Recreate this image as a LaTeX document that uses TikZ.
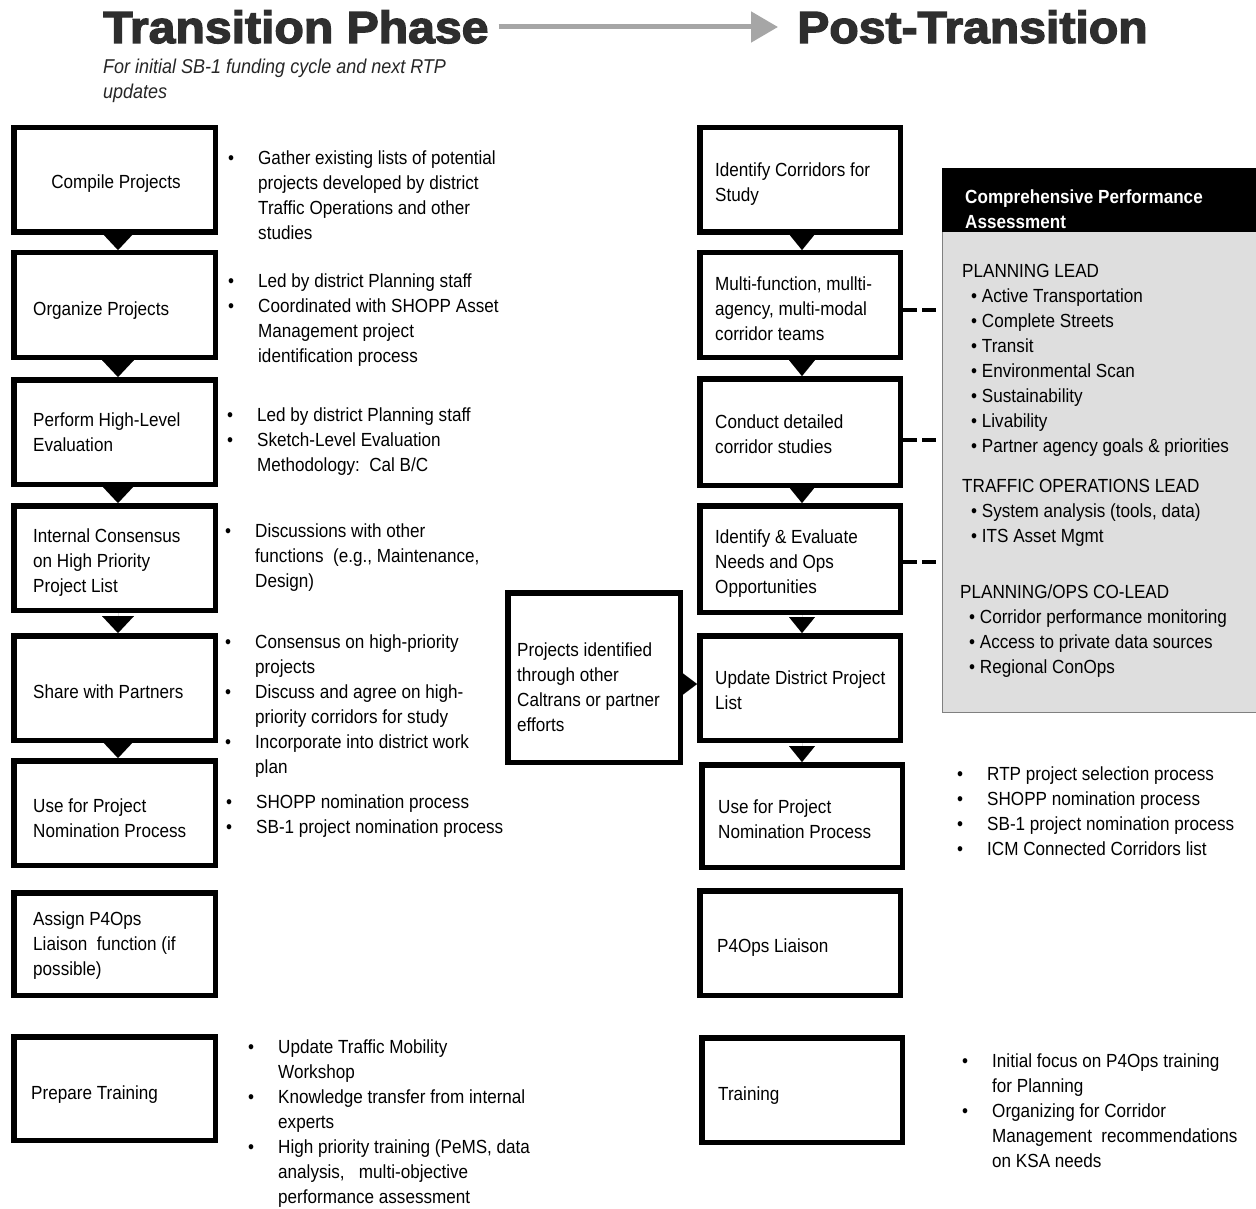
\documentclass[tikz,border=0pt]{standalone}
\usepackage{fontspec}
\setmainfont{Liberation Sans}[FakeStretch=0.9]
\newfontfamily\titlefont{Liberation Sans}[FakeStretch=1.07, BoldFeatures={FakeBold=3}]
\usetikzlibrary{arrows.meta}
\newcommand{\bi}{\makebox[30pt][l]{•}}
\newcommand{\bc}{\hspace*{30pt}}
\newcommand{\gi}{\hspace*{9pt}•\ }
\begin{document}
\begin{tikzpicture}[x=1pt,y=-1pt,
  box/.style={draw, line width=5.5pt, inner sep=0pt, minimum width=200.5pt},
  txt/.style={inner sep=0pt, align=left, anchor=west, yshift=-3.5pt, font=\fontsize{19}{25}\selectfont,
    execute at begin node=\strut, execute at end node=\strut},
  btxt/.style={txt, text=white, font=\fontsize{19}{25}\selectfont\bfseries},
  titletxt/.style={inner sep=0pt, anchor=base west, text=black!82,
    font=\titlefont\bfseries\fontsize{45}{50}\selectfont, text height=32pt, text depth=0pt},
  ltri/.style={-{Triangle[width=32pt,length=17pt]}, line width=0.01pt},
  rtri/.style={-{Triangle[width=26pt,length=16pt]}, line width=0.01pt},
  htri/.style={-{Triangle[width=24pt,length=16pt]}, line width=0.01pt},
  dashc/.style={line width=4.5pt, dash pattern=on 14pt off 5pt, shorten >=5pt},
  grayarr/.style={-{Triangle[width=30pt,length=27pt]}, line width=5pt, draw=black!35}
]
\useasboundingbox (0,0) rectangle (1256,1209);
\clip (0,0) rectangle (1256,1209);
\fill[white] (0,0) rectangle (1256,1209);

% titles
\node[titletxt] (T1) at (103,43) {Transition Phase};
\node[titletxt] (T2) at (797,43) {Post-Transition};
\draw[grayarr] ([xshift=10pt]T1.east) -- ([xshift=-19pt]T2.west);
\node[inner sep=0pt, anchor=north west, align=left, text=black!85,
  font=\itshape\fontsize{20}{25}\selectfont,
  execute at begin node=\strut, execute at end node=\strut] (ST) at (103,58.5)
  {For initial SB-1 funding cycle and next RTP\\updates};

% left column boxes
\node[box, minimum width=201.5pt, minimum height=104.5pt] (L1) at (114.5,180) {};
\node[box, minimum width=201.5pt, minimum height=104.5pt] (L2) at (114.5,305) {};
\node[box, minimum width=201.5pt, minimum height=104.5pt] (L3) at (114.5,432) {};
\node[box, minimum width=201.5pt, minimum height=104.5pt] (L4) at (114.5,558) {};
\node[box, minimum width=201.5pt, minimum height=104.5pt] (L5) at (114.5,688) {};
\node[box, minimum width=201.5pt, minimum height=104.5pt] (L6) at (114.5,813) {};
\node[box, minimum width=201.5pt, minimum height=102.5pt] (L7) at (114.5,944) {};
\node[box, minimum width=201.5pt, minimum height=103.5pt] (L8) at (114.5,1088.5) {};

\node[txt, anchor=center] (L1t) at (116,180) {Compile Projects};
\node[txt] (L2t) at (33,307.5) {Organize Projects};
\node[txt] (L3t) at (33,432.5) {Perform High-Level\\Evaluation};
\node[txt] (L4t) at (33,561) {Internal Consensus\\on High Priority\\Project List};
\node[txt] (L5t) at (33,690) {Share with Partners};
\node[txt] (L6t) at (33,818.5) {Use for Project\\Nomination Process};
\node[txt] (L7t) at (33,944) {Assign P4Ops\\Liaison\ \ function (if\\possible)};
\node[txt] (L8t) at (31,1091) {Prepare Training};

\foreach \a/\b in {L1/L2,L2/L3,L3/L4,L4/L5,L5/L6}
  \draw[ltri] ([xshift=3.5pt]\a.south) -- ([xshift=3.5pt]\b.north);

% left bullet lists
\node[txt] (B1) at (228,195.5) {\bi Gather existing lists of potential\\\bc projects developed by district\\\bc Traffic Operations and other\\\bc studies};
\node[txt] (B2) at (228,318.5) {\bi Led by district Planning staff\\\bi Coordinated with SHOPP Asset\\\bc Management project\\\bc identification process};
\node[txt] (B3) at (227,440) {\bi Led by district Planning staff\\\bi Sketch-Level Evaluation\\\bc Methodology:\ \ Cal B/C};
\node[txt] (B4) at (225,556) {\bi Discussions with other\\\bc functions\ \ (e.g., Maintenance,\\\bc Design)};
\node[txt] (B5) at (225,704.5) {\bi Consensus on high-priority\\\bc projects\\\bi Discuss and agree on high-\\\bc priority corridors for study\\\bi Incorporate into district work\\\bc plan};
\node[txt] (B6) at (226,814.5) {\bi SHOPP nomination process\\\bi SB-1 project nomination process};
\node[txt] (B8) at (248,1122) {\bi Update Traffic Mobility\\\bc Workshop\\\bi Knowledge transfer from internal\\\bc experts\\\bi High priority training (PeMS, data\\\bc analysis,\ \ \ multi-objective\\\bc performance assessment};

% middle box
\node[box, minimum width=172.5pt, minimum height=169.5pt] (M) at (594,677.5) {};
\node[txt] (Mt) at (517,687.5) {Projects identified\\through other\\Caltrans or partner\\efforts};

% gray assessment box
\node[draw=black!50, fill=black!13, line width=1.2pt, inner sep=0pt, anchor=north west,
  minimum width=320pt, minimum height=544pt] (G) at (942,168) {};
\node[fill=black, inner sep=0pt, anchor=north west, minimum width=320pt, minimum height=64pt] (GH) at (942,168) {};
\node[btxt] (GHt) at (965,209.5) {Comprehensive Performance\\Assessment};
\node[txt] (G1) at (962,358.5) {PLANNING LEAD\\\gi Active Transportation\\\gi Complete Streets\\\gi Transit\\\gi Environmental Scan\\\gi Sustainability\\\gi Livability\\\gi Partner agency goals \& priorities};
\node[txt] (G2) at (962,511) {TRAFFIC OPERATIONS LEAD\\\gi System analysis (tools, data)\\\gi ITS Asset Mgmt};
\node[txt] (G3) at (960,629.5) {PLANNING/OPS CO-LEAD\\\gi Corridor performance monitoring\\\gi Access to private data sources\\\gi Regional ConOps};

% right column boxes
\node[box, minimum height=104.5pt] (R1) at (800,180) {};
\node[box, minimum height=104.5pt] (R2) at (800,305) {};
\node[box, minimum height=106.5pt] (R3) at (800,432) {};
\node[box, minimum height=106.5pt] (R4) at (800,559) {};
\node[box, minimum height=104.5pt] (R5) at (800,688) {};
\node[box, minimum height=102.5pt] (R6) at (802,816) {};
\node[box, minimum height=104.5pt] (R7) at (800,943) {};
\node[box, minimum height=104.5pt] (R8) at (802,1090) {};

\node[txt] (R1t) at (715,182.5) {Identify Corridors for\\Study};
\node[txt] (R2t) at (715,309) {Multi-function, mullti-\\agency, multi-modal\\corridor teams};
\node[txt] (R3t) at (715,434.5) {Conduct detailed\\corridor studies};
\node[txt] (R4t) at (715,562) {Identify \& Evaluate\\Needs and Ops\\Opportunities};
\node[txt] (R5t) at (715,690.5) {Update District Project\\List};
\node[txt] (R6t) at (718,819.5) {Use for Project\\Nomination Process};
\node[txt] (R7t) at (717,944) {P4Ops Liaison};
\node[txt] (R8t) at (718,1092) {Training};

\draw[rtri] ([xshift=2pt]R1.south) -- ([xshift=2pt]R2.north);
\draw[rtri] ([xshift=2pt]R2.south) -- ([xshift=2pt]R3.north);
\draw[rtri] ([xshift=2pt]R3.south) -- ([xshift=2pt]R4.north);
\draw[rtri] ([xshift=2pt]R4.south) -- ([xshift=2pt]R5.north);
\draw[rtri] ([xshift=2pt]R5.south) -- (R6.north);
\draw[htri] ([yshift=-6.5pt]M.east) -- ([yshift=-6.5pt]M.east -| R5.west);

% dashed links to assessment box
\draw[dashc] ([yshift=-5pt]R2.east) -- ([yshift=-5pt]R2.east -| G.west);
\draw[dashc] ([yshift=-8pt]R3.east) -- ([yshift=-8pt]R3.east -| G.west);
\draw[dashc] ([yshift=-3pt]R4.east) -- ([yshift=-3pt]R4.east -| G.west);

% right bullet lists
\node[txt] (B6R) at (957,811.5) {\bi RTP project selection process\\\bi SHOPP nomination process\\\bi SB-1 project nomination process\\\bi ICM Connected Corridors list};
\node[txt] (B8R) at (962,1111) {\bi Initial focus on P4Ops training\\\bc for Planning\\\bi Organizing for Corridor\\\bc Management\ \ recommendations\\\bc on KSA needs};
\end{tikzpicture}
\end{document}
